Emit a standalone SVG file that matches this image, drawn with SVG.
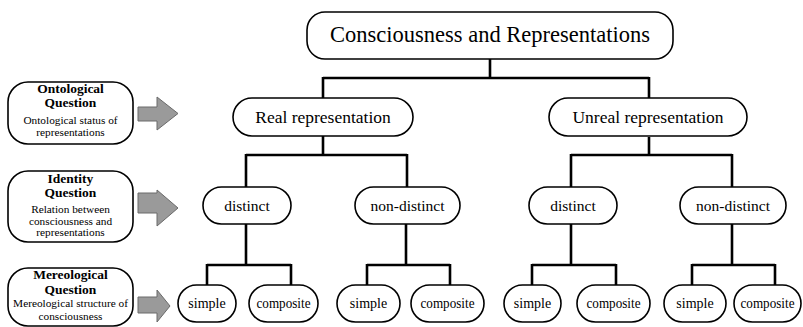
<svg xmlns="http://www.w3.org/2000/svg" width="803" height="327" viewBox="0 0 803 327">
<style>
.box{fill:#fff;stroke:#000;stroke-width:1.6}
.t{fill:#000;text-anchor:middle}
.b{font-weight:bold;font-size:13.5px}
.s{font-size:11.3px}
.conn{fill:none;stroke:#000;stroke-width:2.6}
.arr{fill:#9a9a9a;stroke:#6a6a6a;stroke-width:1}
</style>
<rect width="803" height="327" fill="#fff"/>
<g id="connectors" class="conn">
<path d="M490 59V78M323 78H649M323 77V98M649 77V98"/>
<path d="M323 136V155M246 155H407M246 154V187M407 154V187"/>
<path d="M649 137V155M571 155H732M571 154V187M732 154V187"/>
<path d="M246 224V265M207 265H291M207 264V285M291 264V285"/>
<path d="M406 224V265M367 265H450M367 264V285M450 264V285"/>
<path d="M571 224V265M532 265H616M532 264V285M616 264V285"/>
<path d="M732 224V265M692 265H775M692 264V285M775 264V285"/>
</g>
<g id="arrows">
<polygon class="arr" points="138,107 157,107 157,97 178,113.5 157,130 157,121 138,121"/>
<polygon class="arr" points="138,193 157,193 157,190 178,208 157,226 157,213 138,213"/>
<polygon class="arr" points="138,297 157,297 157,290 170,306 157,322 157,313 138,313"/>
</g>
<g id="nodes" font-family="Liberation Serif, Times New Roman, serif">
<g id="n-ontological"><rect class="box" x="8" y="82" width="125" height="62" rx="20"/>
<text class="t b" x="70.5" y="93">Ontological</text><text class="t b" x="70.5" y="107">Question</text>
<text class="t s" x="70.5" y="124">Ontological status of</text><text class="t s" x="70.5" y="136">representations</text></g>
<g id="n-identity"><rect class="box" x="8" y="171" width="125" height="71" rx="20"/>
<text class="t b" x="70.5" y="183">Identity</text><text class="t b" x="70.5" y="197">Question</text>
<text class="t s" x="70.5" y="213">Relation between</text><text class="t s" x="70.5" y="225">consciousness and</text><text class="t s" x="70.5" y="236">representations</text></g>
<g id="n-mereological"><rect class="box" x="8" y="268" width="125" height="58" rx="20"/>
<text class="t b" x="70.5" y="279">Mereological</text><text class="t b" x="70.5" y="294">Question</text>
<text class="t s" x="70.5" y="307">Mereological structure of</text><text class="t s" x="70.5" y="320">consciousness</text></g>
<g id="n-root"><rect class="box" x="307" y="12" width="366" height="47" rx="18"/>
<text class="t" x="490" y="42" font-size="22.5">Consciousness and Representations</text></g>
<g id="n-real"><rect class="box" x="233" y="98" width="180" height="38" rx="19"/>
<text class="t" x="323" y="122.5" font-size="17.5">Real representation</text></g>
<g id="n-unreal"><rect class="box" x="549" y="98" width="198" height="38" rx="19"/>
<text class="t" x="648" y="122.5" font-size="17.5">Unreal representation</text></g>
<g id="n-distinct-1"><rect class="box" x="203" y="187" width="88" height="37" rx="18.5"/>
<text class="t" x="247" y="211" font-size="15.5">distinct</text></g>
<g id="n-nondistinct-1"><rect class="box" x="355" y="187" width="105" height="37" rx="18.5"/>
<text class="t" x="407.5" y="211" font-size="15.5">non-distinct</text></g>
<g id="n-distinct-2"><rect class="box" x="529" y="187" width="88" height="37" rx="18.5"/>
<text class="t" x="573" y="211" font-size="15.5">distinct</text></g>
<g id="n-nondistinct-2"><rect class="box" x="680" y="187" width="106" height="37" rx="18.5"/>
<text class="t" x="733" y="211" font-size="15.5">non-distinct</text></g>
<g id="n-simple-1"><rect class="box" x="178" y="285" width="58" height="37" rx="18.5"/>
<text class="t" x="207" y="308" font-size="14">simple</text></g>
<g id="n-composite-1"><rect class="box" x="249" y="285" width="69" height="37" rx="18.5"/>
<text class="t" x="283.5" y="308" font-size="14" textLength="54" lengthAdjust="spacingAndGlyphs">composite</text></g>
<g id="n-simple-2"><rect class="box" x="337" y="285" width="63" height="37" rx="18.5"/>
<text class="t" x="368.5" y="308" font-size="14">simple</text></g>
<g id="n-composite-2"><rect class="box" x="411" y="285" width="73" height="37" rx="18.5"/>
<text class="t" x="447.5" y="308" font-size="14" textLength="54" lengthAdjust="spacingAndGlyphs">composite</text></g>
<g id="n-simple-3"><rect class="box" x="504" y="285" width="57" height="37" rx="18.5"/>
<text class="t" x="532.5" y="308" font-size="14">simple</text></g>
<g id="n-composite-3"><rect class="box" x="577" y="285" width="73" height="37" rx="18.5"/>
<text class="t" x="613.5" y="308" font-size="14" textLength="54" lengthAdjust="spacingAndGlyphs">composite</text></g>
<g id="n-simple-4"><rect class="box" x="664" y="285" width="62" height="37" rx="18.5"/>
<text class="t" x="695" y="308" font-size="14">simple</text></g>
<g id="n-composite-4"><rect class="box" x="734" y="285" width="67" height="37" rx="18.5"/>
<text class="t" x="767.5" y="308" font-size="14" textLength="54" lengthAdjust="spacingAndGlyphs">composite</text></g>
</g>
</svg>
